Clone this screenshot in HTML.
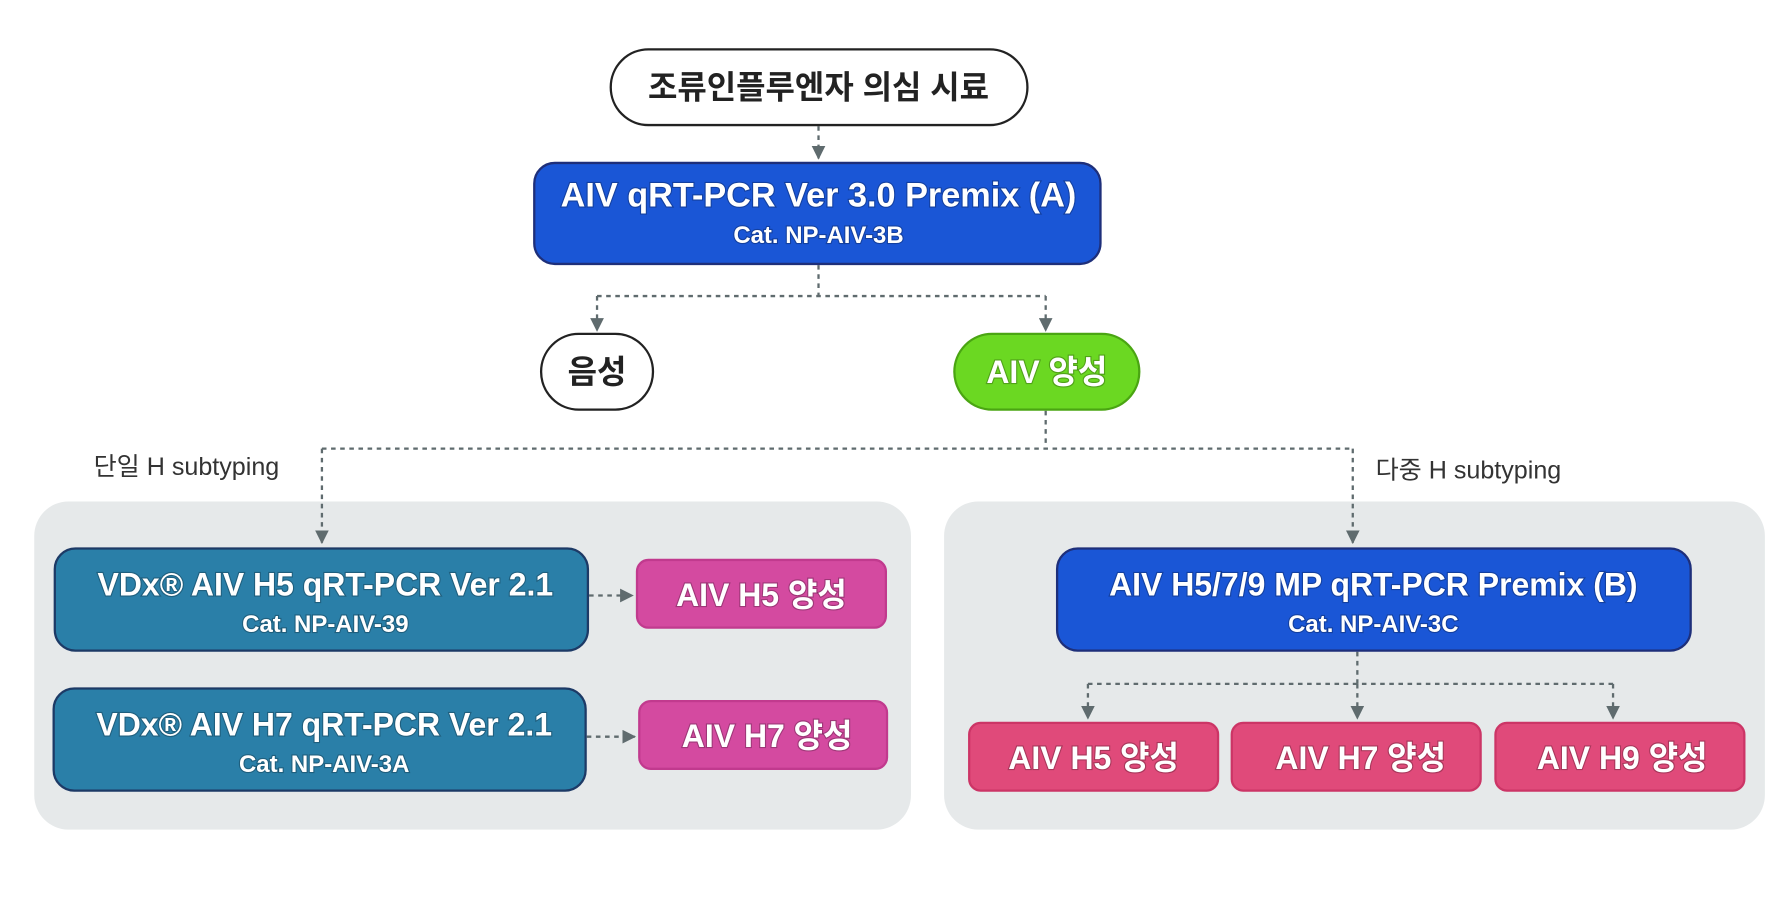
<!DOCTYPE html>
<html><head><meta charset="utf-8"><style>
html,body{margin:0;padding:0;background:#fff;width:1790px;height:898px;overflow:hidden}
svg{display:block}
text{font-family:"Liberation Sans","Noto Sans CJK KR",sans-serif}
.w{fill:#fff;font-weight:bold;paint-order:stroke;stroke:rgba(0,0,0,0.25);stroke-width:2px}
.d{stroke:#5f6b6e;stroke-width:2;stroke-dasharray:4 4;fill:none}
</style></head><body>
<svg width="1790" height="898" viewBox="0 0 1568 782.6" preserveAspectRatio="none" xmlns="http://www.w3.org/2000/svg">
<defs><marker id="a" viewBox="0 0 10 10" refX="9" refY="5" markerWidth="6" markerHeight="6" orient="auto"><path d="M0,0L10,5L0,10z" fill="#5f6b6e"/></marker></defs>
<rect x="30" y="437" width="768" height="286" rx="30" fill="#e6e9ea"/>
<rect x="827" y="437" width="719" height="286" rx="30" fill="#e6e9ea"/>
<path class="d" d="M717,110V138" marker-end="url(#a)"/>
<path class="d" d="M717,231V258M523,258H916M523,258V288" marker-end="url(#a)"/>
<path class="d" d="M916,258V288" marker-end="url(#a)"/>
<path class="d" d="M916,358V391M282,391H1185M282,391V473" marker-end="url(#a)"/>
<path class="d" d="M1185,391V473" marker-end="url(#a)"/>
<path class="d" d="M516,519H554" marker-end="url(#a)"/>
<path class="d" d="M514,642H556" marker-end="url(#a)"/>
<path class="d" d="M1189,568V596M953,596H1413M953,596V626" marker-end="url(#a)"/>
<path class="d" d="M1189,596V626" marker-end="url(#a)"/>
<path class="d" d="M1413,596V626" marker-end="url(#a)"/>
<rect x="535" y="43" width="365" height="66" rx="33" fill="#fff" stroke="#222" stroke-width="2"/>
<text x="717" y="86" text-anchor="middle" font-size="28" fill="#222" font-weight="bold">조류인플루엔자 의심 시료</text>
<rect x="468" y="142" width="496" height="88" rx="18" fill="#1a56d6" stroke="#1e2f7a" stroke-width="2"/>
<text x="717" y="180" text-anchor="middle" font-size="30" class="w">AIV qRT-PCR Ver 3.0 Premix (A)</text>
<text x="717" y="212" text-anchor="middle" font-size="21" class="w">Cat. NP-AIV-3B</text>
<rect x="474" y="291" width="98" height="66" rx="33" fill="#fff" stroke="#222" stroke-width="2"/>
<text x="523" y="334" text-anchor="middle" font-size="28" fill="#222" font-weight="bold">음성</text>
<rect x="836" y="291" width="162" height="66" rx="33" fill="#6bd822" stroke="#4aa512" stroke-width="2"/>
<text x="917" y="334" text-anchor="middle" font-size="28" class="w">AIV 양성</text>
<text x="82" y="414" font-size="22" fill="#333">단일 H subtyping</text>
<text x="1205" y="417" font-size="22" fill="#333">다중 H subtyping</text>
<rect x="48" y="478" width="467" height="89" rx="18" fill="#2a7fa8" stroke="#1d3a66" stroke-width="2"/>
<text x="285" y="519" text-anchor="middle" font-size="28" class="w">VDx® AIV H5 qRT-PCR Ver 2.1</text>
<text x="285" y="551" text-anchor="middle" font-size="21" class="w">Cat. NP-AIV-39</text>
<rect x="558" y="488" width="218" height="59" rx="10" fill="#d44aa0" stroke="#c13a8e" stroke-width="2"/>
<text x="667" y="528" text-anchor="middle" font-size="28" class="w">AIV H5 양성</text>
<rect x="47" y="600" width="466" height="89" rx="18" fill="#2a7fa8" stroke="#1d3a66" stroke-width="2"/>
<text x="284" y="641" text-anchor="middle" font-size="28" class="w">VDx® AIV H7 qRT-PCR Ver 2.1</text>
<text x="284" y="673" text-anchor="middle" font-size="21" class="w">Cat. NP-AIV-3A</text>
<rect x="560" y="611" width="217" height="59" rx="10" fill="#d44aa0" stroke="#c13a8e" stroke-width="2"/>
<text x="672" y="651" text-anchor="middle" font-size="28" class="w">AIV H7 양성</text>
<rect x="926" y="478" width="555" height="89" rx="18" fill="#1a56d6" stroke="#1e2f7a" stroke-width="2"/>
<text x="1203" y="519" text-anchor="middle" font-size="28" class="w">AIV H5/7/9 MP qRT-PCR Premix (B)</text>
<text x="1203" y="551" text-anchor="middle" font-size="21" class="w">Cat. NP-AIV-3C</text>
<rect x="849" y="630" width="218" height="59" rx="10" fill="#e04a7a" stroke="#cc3566" stroke-width="2"/>
<text x="958" y="670" text-anchor="middle" font-size="28" class="w">AIV H5 양성</text>
<rect x="1079" y="630" width="218" height="59" rx="10" fill="#e04a7a" stroke="#cc3566" stroke-width="2"/>
<text x="1192" y="670" text-anchor="middle" font-size="28" class="w">AIV H7 양성</text>
<rect x="1310" y="630" width="218" height="59" rx="10" fill="#e04a7a" stroke="#cc3566" stroke-width="2"/>
<text x="1421" y="670" text-anchor="middle" font-size="28" class="w">AIV H9 양성</text>
</svg>
</body></html>
